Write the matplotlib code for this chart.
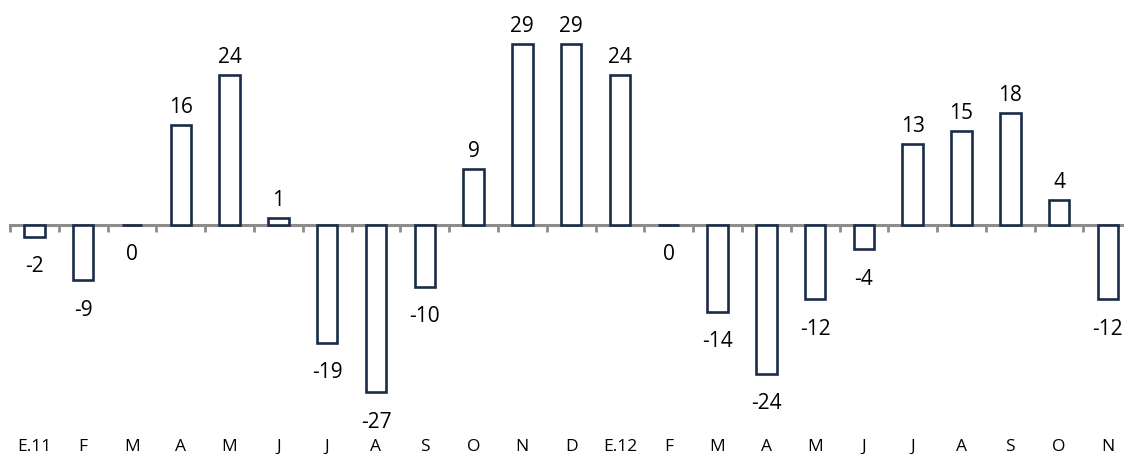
import matplotlib.pyplot as plt
import matplotlib.transforms as mtransforms
import numpy as np

plt.rcParams['font.family'] = ['Open Sans', 'DejaVu Sans']

months = ['E.11', 'F', 'M', 'A', 'M', 'J', 'J', 'A', 'S', 'O', 'N', 'D',
          'E.12', 'F', 'M', 'A', 'M', 'J', 'J', 'A', 'S', 'O', 'N']
values = [-2, -9, 0, 16, 24, 1, -19, -27, -10, 9, 29, 29,
          24, 0, -14, -24, -12, -4, 13, 15, 18, 4, -12]

navy = '#1b2c48'
grey = '#8c8c8c'

fig = plt.figure(figsize=(11.24, 4.54), dpi=100)
ax = fig.add_axes([0, 0, 1, 1])

x = np.arange(len(months))
ax.bar(x, values, width=0.42, color='white', edgecolor=navy, linewidth=1.9, zorder=3)

# axis line through zero, ticks between the months
for s in ['top', 'right', 'left']:
    ax.spines[s].set_visible(False)
ax.spines['bottom'].set_position(('data', 0))
ax.spines['bottom'].set_color(grey)
ax.spines['bottom'].set_linewidth(2.2)
ax.spines['bottom'].set_bounds(-0.5, len(months) - 0.5)
ax.spines['bottom'].set_zorder(2)
ax.set_xticks(np.arange(-0.5, len(months), 1))
ax.tick_params(axis='x', direction='out', length=5, width=2, color=grey, labelbottom=False)
ax.set_yticks([])

ax.set_xlim(-0.705, 22.33)
ax.set_ylim(-36.9, 36.1)

for xi, v in zip(x, values):
    if v > 0:
        ax.annotate(str(v), (xi, v), xytext=(0, 5), textcoords='offset points',
                    ha='center', va='bottom', fontsize=15)
    else:
        ax.annotate(str(v), (xi, v), xytext=(0, -14), textcoords='offset points',
                    ha='center', va='top', fontsize=15)

trans = mtransforms.blended_transform_factory(ax.transData, ax.transAxes)
for xi, m in zip(x, months):
    ax.text(xi, 0.0066, m, transform=trans, ha='center', va='baseline', fontsize=12.5)

fig.savefig('out.png', dpi=100)
